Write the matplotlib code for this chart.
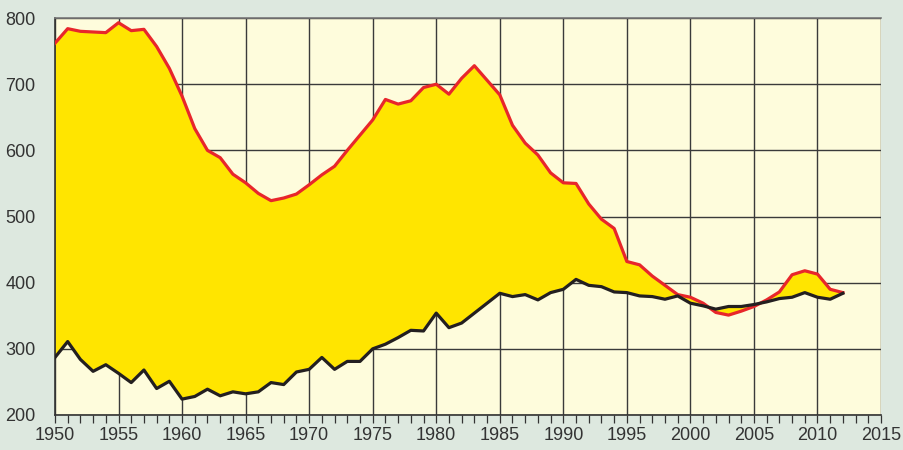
import numpy as np
import matplotlib.pyplot as plt
from matplotlib.ticker import MultipleLocator

years = np.arange(1950, 2013)

# upper series (red line)
upper = [762, 784, 780, 779, 778, 793, 781, 783, 757, 724,
         682, 633, 600, 589, 564, 551, 535, 524, 528, 534,
         548, 563, 576, 600, 623, 646, 677, 670, 675, 695,
         700, 685, 709, 728, 706, 684, 638, 611, 593, 566,
         551, 550, 519, 496, 482, 432, 427, 410, 396, 382,
         378, 369, 355, 351, 357, 364, 374, 386, 412, 418,
         413, 390, 385]

# lower series (black line)
lower = [287, 311, 284, 266, 276, 263, 249, 268, 240, 251,
         224, 228, 239, 229, 235, 232, 235, 249, 246, 265,
         269, 287, 269, 281, 281, 300, 307, 317, 328, 327,
         354, 332, 339, 354, 369, 384, 379, 382, 374, 385,
         390, 405, 396, 394, 386, 385, 380, 379, 375, 380,
         369, 365, 360, 364, 364, 367, 371, 376, 378, 385,
         378, 375, 384]

x_ticks = list(range(1950, 2016, 5))
y_ticks = [200, 300, 400, 500, 600, 700, 800]

plt.rcParams['font.family'] = ['Liberation Sans', 'DejaVu Sans']

fig = plt.figure(figsize=(9.04, 4.5), dpi=100)
fig.patch.set_facecolor('#dde8df')
ax = fig.add_axes([0.0608, 0.0778, 0.9138, 0.882])
ax.set_facecolor('#fefcdc')

ax.fill_between(years, lower, upper, color='#ffe500', interpolate=True, lw=0, zorder=1)
ax.plot(years, upper, color='#e8262b', lw=2.3, zorder=3)
ax.plot(years, lower, color='#231f20', lw=2.3, zorder=3)

ax.set_xlim(1950, 2015)
ax.set_ylim(200, 800)
ax.set_xticks(x_ticks)
ax.set_yticks(y_ticks)
ax.xaxis.set_minor_locator(MultipleLocator(1))

ax.set_axisbelow(True)
ax.grid(True, which='major', color='#3a3a3a', lw=1.0)

ax.tick_params(axis='x', which='both', direction='out', length=6, width=0.9,
               color='#333333', labelsize=13, labelcolor='#333333', pad=3)
ax.tick_params(axis='y', length=0, labelsize=13, labelcolor='#333333', pad=14)

for side in ['left', 'bottom']:
    ax.spines[side].set_color('#333333')
    ax.spines[side].set_linewidth(1.2)
ax.spines['top'].set_color('#777777')
ax.spines['top'].set_linewidth(1.2)
ax.spines['right'].set_visible(False)

fig.savefig('out.png', dpi=100, facecolor=fig.get_facecolor())
